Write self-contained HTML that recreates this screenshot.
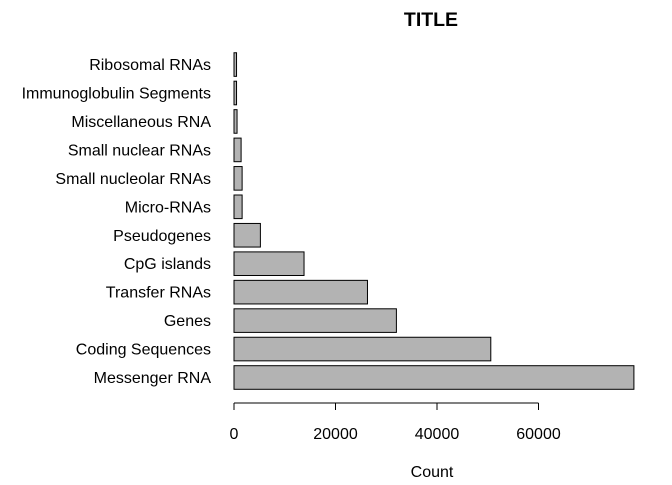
<!DOCTYPE html>
<html><head><meta charset="utf-8"><style>
body{margin:0;background:#fff}
svg text{font-family:"Liberation Sans",Arial,sans-serif;font-size:16px;fill:#000}
</style></head><body>
<svg id="chart" width="672" height="480" xmlns="http://www.w3.org/2000/svg">
<text x="431" y="26" text-anchor="middle" style="font-weight:bold;font-size:19.5px">TITLE</text>
<text x="432" y="477" text-anchor="middle">Count</text>
<g id="bars"></g><g id="axis"></g>
</svg>
<script>
const categories=["Messenger RNA","Coding Sequences","Genes","Transfer RNAs","CpG islands","Pseudogenes","Micro-RNAs","Small nucleolar RNAs","Small nuclear RNAs","Miscellaneous RNA","Immunoglobulin Segments","Ribosomal RNAs"];
const counts=[78800,50600,32000,26300,13800,5200,1600,1600,1400,600,500,500];
const tickValues=[0,20000,40000,60000];
const ns="http://www.w3.org/2000/svg";
const x0=234,pxPer=101.5/20000;
function xs(v){return x0+v*pxPer;}
function yc(i){return 377.5-i*28.45;}
const bars=document.getElementById('bars');
categories.forEach((c,i)=>{
 const r=document.createElementNS(ns,'rect');
 r.setAttribute('x',xs(0));r.setAttribute('y',yc(i)-11.8);
 r.setAttribute('width',Math.max(xs(counts[i])-xs(0),1));r.setAttribute('height',23.6);
 r.setAttribute('fill','#b3b3b3');r.setAttribute('stroke','#000');r.setAttribute('stroke-width','1');
 
 
 bars.appendChild(r);
 const t=document.createElementNS(ns,'text');
 t.setAttribute('x',211);t.setAttribute('y',yc(i)+5.5);t.setAttribute('text-anchor','end');
 t.textContent=c;
 
 
 bars.appendChild(t);
});
const ax=document.getElementById('axis');
const l=document.createElementNS(ns,'line');
l.setAttribute('x1',xs(tickValues[0]));l.setAttribute('x2',xs(tickValues[tickValues.length-1]));
l.setAttribute('y1',403);l.setAttribute('y2',403);l.setAttribute('stroke','#000');


ax.appendChild(l);
tickValues.forEach(v=>{
 const tk=document.createElementNS(ns,'line');
 tk.setAttribute('x1',xs(v));tk.setAttribute('x2',xs(v));tk.setAttribute('y1',403);tk.setAttribute('y2',410);tk.setAttribute('stroke','#000');
 
 
 ax.appendChild(tk);
 const t=document.createElementNS(ns,'text');
 t.setAttribute('x',xs(v));t.setAttribute('y',439);t.setAttribute('text-anchor','middle');t.textContent=v;
 
 
 ax.appendChild(t);
});
</script>
</body></html>
